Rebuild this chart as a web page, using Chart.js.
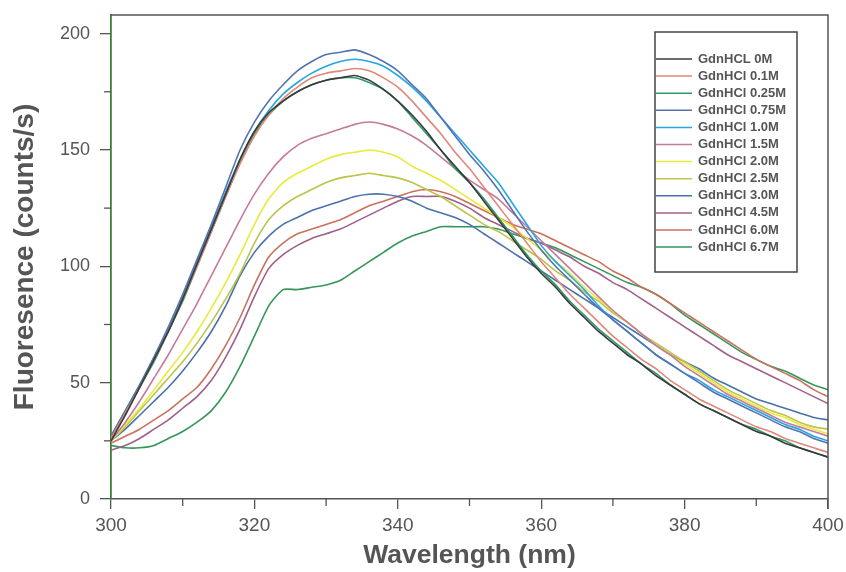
<!DOCTYPE html>
<html><head><meta charset="utf-8">
<script src="https://cdn.jsdelivr.net/npm/chart.js@4/dist/chart.umd.min.js"></script>
<style>html,body{margin:0;padding:0;background:#fff}#wrap{width:846px;height:572px}</style>
</head><body><div id="wrap"><canvas id="c" width="846" height="572"></canvas></div>
<script>
const wavelengths = [300,302,304,306,308,310,312,314,316,318,320,322,324,326,328,330,332,334,336,338,340,342,344,346,348,350,352,354,356,358,360,362,364,366,368,370,372,374,376,378,380,382,384,386,388,390,392,394,396,398,400];
const seriesNames = ['GdnHCL 0M','GdnHCl 0.1M','GdnHCl 0.25M','GdnHCl 0.75M','GdnHCl 1.0M','GdnHCl 1.5M','GdnHCl 2.0M','GdnHCl 2.5M','GdnHCl 3.0M','GdnHCl 4.5M','GdnHCl 6.0M','GdnHCl 6.7M'];
const xTicks = [300,320,340,360,380,400];
const yTicks = [0,50,100,150,200];

const g0M   = [25,36,48,60,72,86,101,116,131,146,158,166,171,175,178,180,181,182,180,176,171,165,158,150,143,136,128,120,112,104,97,91,84,78,72,67,62,58,53,49,45,41,38,35,32,29,27,24,22,20,18];
const g01M  = [26,37,48,60,72,86,100,115,130,144,156,165,172,177,181,183,184,185,184,181,177,171,164,157,149,142,134,126,118,110,102,95,88,82,76,70,65,60,56,51,47,43,40,37,34,31,29,26,24,22,20];
const g025M = [26,37,48,59,72,85,100,115,130,145,157,165,171,175,178,180,181,181,179,176,171,164,157,150,142,136,129,121,113,105,98,92,85,79,73,68,63,58,54,49,45,41,38,35,32,30,27,25,22,20,18];
const g075M = [27,38,49,61,74,88,103,118,134,150,162,171,178,184,188,191,192,193,191,188,184,178,172,164,156,148,141,133,124,115,107,100,94,88,82,77,72,67,62,58,54,50,46,43,40,37,34,31,29,26,24];
const g10M  = [27,38,49,61,73,87,102,117,132,146,158,167,174,179,183,186,188,189,188,186,182,177,171,164,157,150,143,136,127,118,109,102,96,90,83,77,72,67,62,58,54,51,47,44,41,38,35,32,30,27,25];
const g15M  = [25,33,42,52,62,73,84,96,108,120,131,140,147,152,155,157,159,161,162,161,159,156,152,147,142,137,133,129,123,117,111,105,99,93,87,81,76,71,66,62,57,53,49,45,42,39,36,33,31,29,27];
const g20M  = [25,32,39,47,55,63,72,82,93,105,118,129,136,140,143,146,148,149,150,149,147,143,140,137,133,129,125,121,117,112,107,102,97,91,86,81,76,71,66,62,58,54,50,46,43,40,37,35,32,30,28];
const g25M  = [25,31,38,45,52,59,67,76,86,97,110,120,126,130,133,136,138,139,140,139,138,136,133,130,126,122,118,115,111,107,103,98,94,89,85,80,76,71,67,63,59,55,51,47,44,41,38,36,33,31,30];
const g30M  = [25,30,36,42,48,55,63,72,83,96,106,113,118,121,124,126,128,130,131,131,130,128,125,123,121,118,114,110,106,102,98,94,90,86,82,78,74,70,66,62,59,56,52,49,46,43,41,39,37,35,34];
const g45M  = [21,23,26,30,34,39,44,51,61,73,87,99,105,109,112,114,116,119,122,125,128,130,130,130,128,125,121,118,115,112,110,107,104,100,97,93,90,86,82,78,74,70,66,62,59,56,53,50,47,44,41];
const g60M  = [24,27,30,34,38,43,48,56,66,78,92,104,110,114,116,118,120,123,126,128,130,132,133,132,130,127,124,121,118,116,114,111,108,105,102,98,95,91,88,84,80,76,72,68,64,60,57,54,51,47,44];
const g67M  = [23,22,22,23,26,29,33,38,46,57,70,83,90,90,91,92,94,98,102,106,110,113,115,117,117,117,117,116,114,112,110,108,105,102,99,96,93,91,88,84,79,75,71,67,63,60,57,55,52,49,47];

const seriesValues = [g0M,g01M,g025M,g075M,g10M,g15M,g20M,g25M,g30M,g45M,g60M,g67M];
const seriesColors = ['#3a3a3a','#e0887a','#2f9a6a','#5574ad','#27a6e2','#c67a9c','#eaea3a','#bcc44a','#4a72aa','#a0608a','#c8725e','#36965a'];

Chart.defaults.font.family = '"Liberation Sans", Arial, sans-serif';
Chart.defaults.color = '#555';

const datasets = seriesValues.map((vals,i)=>({
  label: seriesNames[i],
  data: vals.map((v,j)=>({x: wavelengths[j], y: v})),
  borderColor: seriesColors[i],
  backgroundColor: seriesColors[i],
  borderWidth: 1.6,
  pointRadius: 0,
  tension: 0.2,
  fill: false
}));

const framePlugin = {
  id: 'frame',
  afterDraw(chart){
    const {ctx, chartArea:a, scales} = chart;
    ctx.save();
    ctx.lineWidth = 1.5;
    ctx.strokeStyle = '#555';
    ctx.beginPath();
    ctx.moveTo(a.left, a.top); ctx.lineTo(a.right, a.top); ctx.lineTo(a.right, a.bottom + 10);
    ctx.stroke();
    ctx.lineWidth = 1.3;
    [310,330,350,370,390].forEach(v=>{
      const x = scales.x.getPixelForValue(v);
      ctx.beginPath(); ctx.moveTo(x, a.bottom); ctx.lineTo(x, a.bottom + 7); ctx.stroke();
    });
    [25,75,125,175].forEach(v=>{
      const y = scales.y.getPixelForValue(v);
      ctx.beginPath(); ctx.moveTo(a.left, y); ctx.lineTo(a.left - 7, y); ctx.stroke();
    });
    const x0 = 655, y0 = 32, w = 142, h = 240;
    ctx.fillStyle = '#fff';
    ctx.fillRect(x0, y0, w, h);
    ctx.strokeStyle = '#444'; ctx.lineWidth = 1.5;
    ctx.strokeRect(x0, y0, w, h);
    ctx.font = 'bold 13px "Liberation Sans", Arial, sans-serif';
    ctx.textBaseline = 'middle';
    chart.data.datasets.forEach((ds,i)=>{
      const y = 59 + i*17.1;
      ctx.strokeStyle = ds.borderColor; ctx.lineWidth = 1.5;
      ctx.beginPath(); ctx.moveTo(x0 + 1, y); ctx.lineTo(x0 + 37, y); ctx.stroke();
      ctx.fillStyle = '#555';
      ctx.fillText(ds.label, x0 + 43, y);
    });
    ctx.restore();
  }
};

new Chart(document.getElementById('c'), {
  type: 'line',
  data: { datasets },
  options: {
    responsive: false,
    animation: false,
    devicePixelRatio: 1,
    layout: { padding: { top: 15, right: 18, left: 0, bottom: 0 } },
    plugins: { legend: { display: false }, tooltip: { enabled: false } },
    scales: {
      x: {
        type: 'linear', min: 300, max: 400,
        afterFit: s => { s.height = 73; s.paddingLeft = 0; s.paddingRight = 0; },
        afterBuildTicks: s => { s.ticks = xTicks.map(v=>({value:v})); },
        grid: { drawOnChartArea: false, drawTicks: true, tickLength: 10, color: '#555', lineWidth: 1.3 },
        border: { display: true, color: '#555', width: 1.5 },
        ticks: { padding: 5, font: { size: 19 }, color: '#555', maxRotation: 0 },
        title: { display: true, text: 'Wavelength (nm)', font: { size: 26.5, weight: 'bold' }, color: '#555', padding: { top: 0, bottom: 0 } }
      },
      y: {
        type: 'linear', min: 0, max: 208,
        afterFit: s => { s.width = 111; s.paddingTop = 0; s.paddingBottom = 0; },
        afterBuildTicks: s => { s.ticks = yTicks.map(v=>({value:v})); },
        grid: { drawOnChartArea: false, drawTicks: true, tickLength: 11, color: '#555', lineWidth: 1.3 },
        border: { display: true, color: '#3f7f3a', width: 1.8 },
        ticks: { padding: 10, font: { size: 18 }, color: '#555' },
        title: { display: true, text: 'Fluoresence (counts/s)', font: { size: 28, weight: 'bold' }, color: '#555', padding: { top: 8, bottom: 0 } }
      }
    }
  },
  plugins: [framePlugin]
});
</script>
</body></html>
